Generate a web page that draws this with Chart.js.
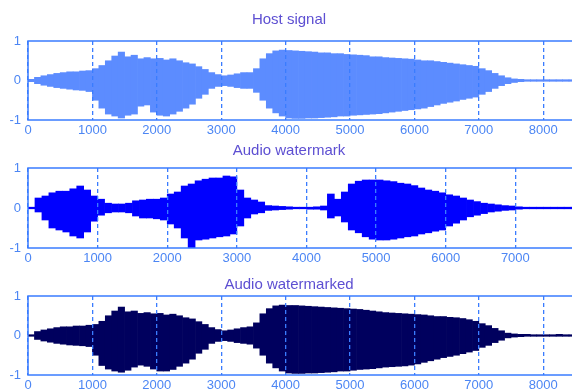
<!DOCTYPE html>
<html>
<head>
<meta charset="utf-8">
<script src="https://cdn.jsdelivr.net/npm/chart.js@4.4.0/dist/chart.umd.min.js"></script>
<style>
html, body { margin: 0; padding: 0; background: #fff; width: 572px; height: 391px; overflow: hidden; }
canvas { position: absolute; left: 0; }
</style>
</head>
<body>
<canvas id="hostChart" width="600" height="140" style="top:0px"></canvas>
<canvas id="markChart" width="600" height="128" style="top:140px"></canvas>
<canvas id="markedChart" width="600" height="123" style="top:268px"></canvas>
<script>
// samples per envelope bin
const binSize = 100;

// tick labels
const hostTicks = [0, 1000, 2000, 3000, 4000, 5000, 6000, 7000, 8000];
const markTicks = [0, 1000, 2000, 3000, 4000, 5000, 6000, 7000];
const ampTicks = [-1, 0, 1];

// Host signal envelope (max / min per bin)
const hostHi = [0.03, 0.08, 0.12, 0.15, 0.18, 0.2, 0.22, 0.22, 0.24, 0.25,
    0.3, 0.38, 0.5, 0.62, 0.72, 0.6, 0.64, 0.55, 0.58, 0.55,
    0.56, 0.52, 0.55, 0.5, 0.45, 0.42, 0.35, 0.28, 0.2, 0.15,
    0.12, 0.14, 0.17, 0.2, 0.2, 0.3, 0.55, 0.68, 0.75, 0.77,
    0.76, 0.75, 0.74, 0.73, 0.72, 0.7, 0.7, 0.68, 0.68, 0.66,
    0.65, 0.64, 0.63, 0.6, 0.6, 0.58, 0.57, 0.56, 0.55, 0.54,
    0.52, 0.5, 0.5, 0.48, 0.46, 0.44, 0.42, 0.4, 0.38, 0.36,
    0.3, 0.25, 0.18, 0.12, 0.07, 0.04, 0.03, 0.02, 0.02, 0.02,
    0.02, 0.02, 0.02, 0.02, 0.02];
const hostLo = [-0.03, -0.08, -0.12, -0.15, -0.18, -0.2, -0.22, -0.24, -0.25, -0.28,
    -0.5, -0.7, -0.85, -0.9, -0.95, -0.88, -0.85, -0.65, -0.62, -0.8,
    -0.88, -0.9, -0.85, -0.78, -0.7, -0.6, -0.45, -0.35, -0.2, -0.15,
    -0.13, -0.15, -0.18, -0.2, -0.2, -0.3, -0.5, -0.7, -0.82, -0.9,
    -0.95, -0.96, -0.96, -0.95, -0.95, -0.94, -0.93, -0.92, -0.9, -0.9,
    -0.88, -0.87, -0.86, -0.85, -0.84, -0.82, -0.8, -0.78, -0.76, -0.74,
    -0.72, -0.7, -0.66, -0.62, -0.58, -0.55, -0.52, -0.48, -0.45, -0.42,
    -0.35, -0.28, -0.2, -0.13, -0.08, -0.05, -0.03, -0.02, -0.02, -0.02,
    -0.02, -0.02, -0.02, -0.02, -0.02];

// Audio watermark envelope
const markHi = [0.02, 0.25, 0.3, 0.38, 0.42, 0.42, 0.48, 0.55, 0.45, 0.3,
    0.22, 0.12, 0.1, 0.1, 0.12, 0.18, 0.2, 0.22, 0.22, 0.25,
    0.35, 0.4, 0.55, 0.6, 0.68, 0.72, 0.75, 0.75, 0.8, 0.78,
    0.45, 0.25, 0.2, 0.15, 0.06, 0.05, 0.04, 0.03, 0.02, 0.02,
    0.02, 0.03, 0.05, 0.35, 0.22, 0.4, 0.6, 0.67, 0.7, 0.7,
    0.7, 0.68, 0.66, 0.62, 0.6, 0.56, 0.5, 0.45, 0.42, 0.38,
    0.33, 0.3, 0.25, 0.2, 0.16, 0.12, 0.1, 0.08, 0.06, 0.05,
    0.03, 0.02, 0.02, 0.02, 0.02, 0.02, 0.02, 0.02, 0.02];
const markLo = [-0.02, -0.1, -0.3, -0.5, -0.55, -0.6, -0.7, -0.75, -0.6, -0.33,
    -0.18, -0.12, -0.1, -0.1, -0.12, -0.2, -0.25, -0.25, -0.27, -0.3,
    -0.4, -0.5, -0.75, -1.0, -0.8, -0.78, -0.75, -0.72, -0.7, -0.65,
    -0.45, -0.25, -0.15, -0.12, -0.06, -0.05, -0.04, -0.03, -0.02, -0.02,
    -0.03, -0.03, -0.05, -0.25, -0.2, -0.35, -0.55, -0.62, -0.72, -0.78,
    -0.8, -0.8, -0.78, -0.75, -0.72, -0.7, -0.65, -0.62, -0.58, -0.55,
    -0.45, -0.38, -0.3, -0.22, -0.18, -0.14, -0.1, -0.08, -0.06, -0.05,
    -0.03, -0.02, -0.02, -0.02, -0.02, -0.02, -0.02, -0.02, -0.02];

// Audio watermarked envelope
const markedHi = [0.02, 0.1, 0.14, 0.17, 0.2, 0.22, 0.22, 0.24, 0.24, 0.26,
    0.28, 0.36, 0.5, 0.62, 0.72, 0.6, 0.62, 0.56, 0.58, 0.55,
    0.56, 0.52, 0.54, 0.5, 0.45, 0.42, 0.35, 0.28, 0.2, 0.15,
    0.12, 0.14, 0.17, 0.2, 0.22, 0.32, 0.55, 0.68, 0.75, 0.77,
    0.76, 0.76, 0.75, 0.74, 0.73, 0.72, 0.71, 0.7, 0.69, 0.68,
    0.67, 0.66, 0.64, 0.62, 0.6, 0.58, 0.57, 0.56, 0.55, 0.54,
    0.53, 0.52, 0.5, 0.48, 0.48, 0.46, 0.45, 0.43, 0.4, 0.36,
    0.3, 0.25, 0.18, 0.12, 0.06, 0.04, 0.03, 0.03, 0.02, 0.02,
    0.02, 0.02, 0.03, 0.02, 0.02];
const markedLo = [-0.02, -0.1, -0.14, -0.17, -0.2, -0.22, -0.24, -0.25, -0.26, -0.28,
    -0.5, -0.76, -0.85, -0.9, -0.93, -0.88, -0.8, -0.75, -0.78, -0.85,
    -0.9, -0.9, -0.86, -0.78, -0.7, -0.6, -0.45, -0.35, -0.2, -0.15,
    -0.13, -0.15, -0.18, -0.2, -0.22, -0.32, -0.5, -0.7, -0.82, -0.9,
    -0.95, -0.96, -0.96, -0.95, -0.95, -0.94, -0.93, -0.92, -0.9, -0.9,
    -0.88, -0.86, -0.85, -0.84, -0.82, -0.8, -0.79, -0.78, -0.77, -0.75,
    -0.72, -0.68, -0.64, -0.6, -0.56, -0.53, -0.5, -0.46, -0.42, -0.38,
    -0.3, -0.25, -0.18, -0.12, -0.06, -0.04, -0.03, -0.02, -0.02, -0.02,
    -0.02, -0.02, -0.02, -0.02, -0.02];

const FONT = 'Arial, "Liberation Sans", sans-serif';
const AXIS_COLOR = '#3a7cff';
const TICK_COLOR = '#4c86f4';
const TITLE_COLOR = '#5d4fd2';

// box around the plot area, drawn last
const frameBox = {
    id: 'frameBox',
    afterDraw: function(chart) {
        const a = chart.chartArea;
        const ctx = chart.ctx;
        ctx.save();
        ctx.strokeStyle = AXIS_COLOR;
        ctx.lineWidth = 1.5;
        ctx.strokeRect(a.left, a.top, a.right - a.left, a.bottom - a.top);
        ctx.restore();
    }
};

function envelope(hi, lo) {
    return hi.map(function(h, i) {
        return { x: i * binSize + binSize / 2, y: [lo[i], h] };
    });
}

function createWaveChart(id, title, hi, lo, color, ticks, xMax, titlePad, xAxisHeight) {
    const ctx = document.getElementById(id).getContext('2d');

    new Chart(ctx, {
        type: 'bar',
        data: {
            datasets: [{
                data: envelope(hi, lo),
                backgroundColor: color,
                borderWidth: 0,
                barPercentage: 1,
                categoryPercentage: 1
            }]
        },
        options: {
            responsive: false,
            animation: false,
            layout: {
                padding: { left: 0, right: 22, top: 0, bottom: 0 }
            },
            plugins: {
                legend: { display: false },
                tooltip: { enabled: false },
                title: {
                    display: true,
                    text: title,
                    color: TITLE_COLOR,
                    font: { family: FONT, size: 15, weight: 'normal' },
                    padding: titlePad
                }
            },
            scales: {
                x: {
                    type: 'linear',
                    min: 0,
                    max: xMax,
                    offset: false,
                    afterBuildTicks: function(scale) {
                        scale.ticks = ticks.map(function(v) { return { value: v }; });
                    },
                    afterFit: function(scale) {
                        scale.height = xAxisHeight;
                    },
                    grid: {
                        color: AXIS_COLOR,
                        lineWidth: 1.3,
                        drawTicks: false,
                        offset: false,
                        z: 1
                    },
                    border: { display: false, dash: [4, 3] },
                    ticks: {
                        color: TICK_COLOR,
                        padding: 3,
                        maxRotation: 0,
                        autoSkip: false,
                        font: { family: FONT, size: 13 },
                        callback: function(value) { return value; }
                    }
                },
                y: {
                    min: -1,
                    max: 1,
                    afterBuildTicks: function(scale) {
                        scale.ticks = ampTicks.map(function(v) { return { value: v }; });
                    },
                    afterFit: function(scale) {
                        scale.width = 28;
                    },
                    grid: { display: false, drawTicks: false },
                    border: { display: false },
                    ticks: {
                        color: TICK_COLOR,
                        padding: 7,
                        font: { family: FONT, size: 13 },
                        callback: function(value) { return value; }
                    }
                }
            }
        },
        plugins: [frameBox]
    });
}

// 페이지 로드 시 차트 생성
document.addEventListener('DOMContentLoaded', function() {
    createWaveChart('hostChart', 'Host signal', hostHi, hostLo, '#5c8cff',
        hostTicks, 8540, { top: 11, bottom: 12 }, 20);
    createWaveChart('markChart', 'Audio watermark', markHi, markLo, '#0000ff',
        markTicks, 7900, { top: 2, bottom: 8 }, 20);
    createWaveChart('markedChart', 'Audio watermarked', markedHi, markedLo, '#00005e',
        hostTicks, 8540, { top: 8, bottom: 2 }, 16);
});
</script>
</body>
</html>
